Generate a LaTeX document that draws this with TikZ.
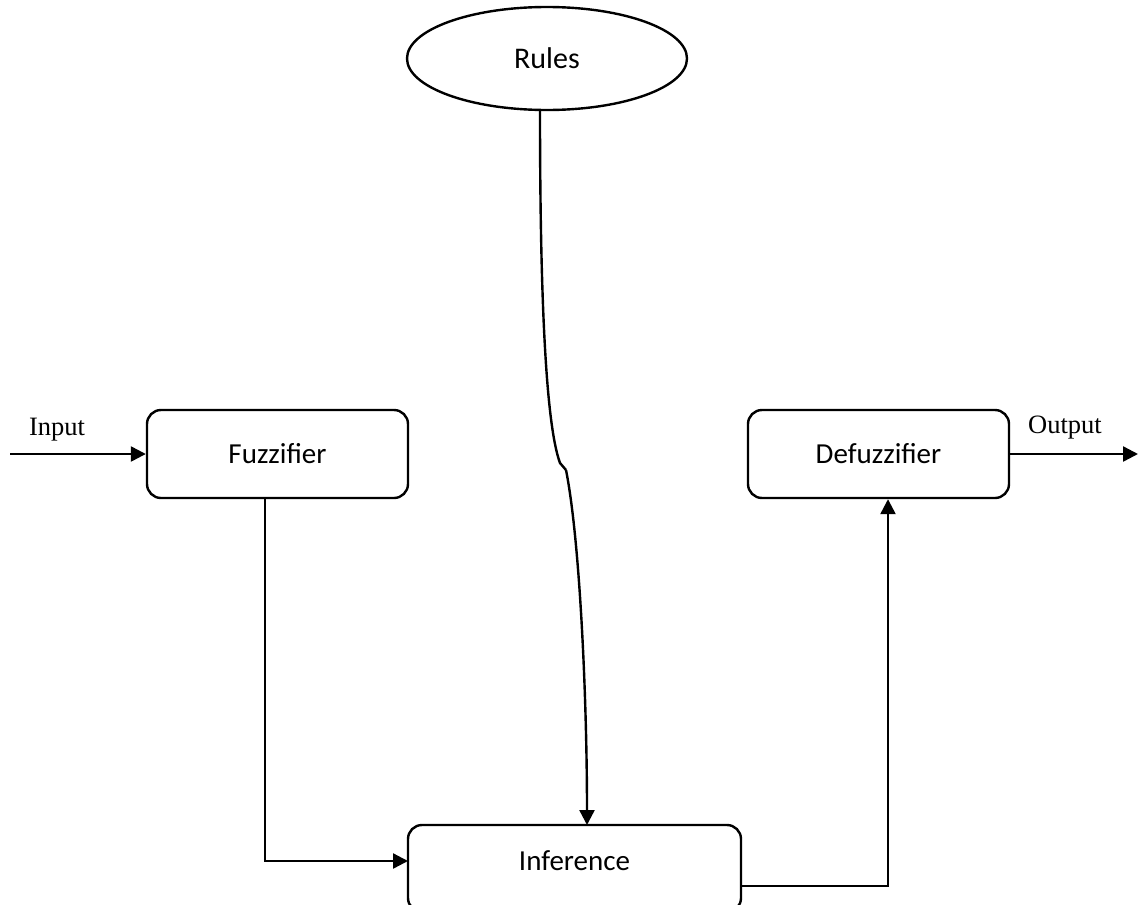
\documentclass[tikz,border=0pt]{standalone}
\usepackage{fontspec}
\setmainfont{Carlito}
\newfontfamily\serifx{Liberation Serif}
\usetikzlibrary{arrows.meta,shapes.geometric}
\begin{document}
\begin{tikzpicture}[x=1pt,y=-1pt,
  line width=2.4pt,
  boxstyle/.style={draw,rounded corners=14pt,minimum width=261pt,minimum height=88pt,inner sep=0pt,font=\fontsize{29}{34}\selectfont},
  ovalstyle/.style={draw,ellipse,minimum width=280pt,minimum height=103pt,inner sep=0pt,font=\fontsize{30}{34}\selectfont},
  lbl/.style={font=\serifx\fontsize{26.5}{30}\selectfont,inner sep=0pt},
  arr/.style={-{Triangle[length=15pt,width=15pt]}}]
\useasboundingbox (0,0) rectangle (1138,905);
\begin{scope}
\clip (0,0) rectangle (1138,905);
\node[boxstyle] (fuzz) at (277.5,454) {Fuzzifier};
\node[boxstyle] (defuzz) at (878.5,454) {Defuzzifier};
\draw[rounded corners=14pt] (408,825) rectangle (741,912);
\node[inner sep=0pt,minimum width=333pt,minimum height=72pt,font=\fontsize{29}{34}\selectfont] (inf) at (574.5,861) {Inference};
\node[ovalstyle] (rules) at (547,58.5) {Rules};
\end{scope}
\coordinate (inS) at (10,454);
\coordinate (outE) at (1138,454);
\node[lbl,anchor=base] (inlbl) at (57,435) {Input};
\node[lbl,anchor=base] (outlbl) at (1065,433) {Output};
\draw[arr] (inS) -- (fuzz.west);
\draw[arr] (defuzz.east) -- (outE);
\coordinate (k1) at (560,463);
\coordinate (k2) at (566,470);
\coordinate (infTop) at (587,825);
\coordinate (infLeft) at (408,861);
\coordinate (infRight) at (741,886);
\draw (rules.south -| 540,0) .. controls (540,300) and (546,425) .. (k1) -- (k2);
\draw[arr] (k2) .. controls (580,540) and (587,700) .. (infTop);
\draw[arr] (fuzz.south -| 265,0) |- (infLeft);
\draw[arr] (infRight) -| (defuzz.south -| 888,0);
\end{tikzpicture}
\end{document}
